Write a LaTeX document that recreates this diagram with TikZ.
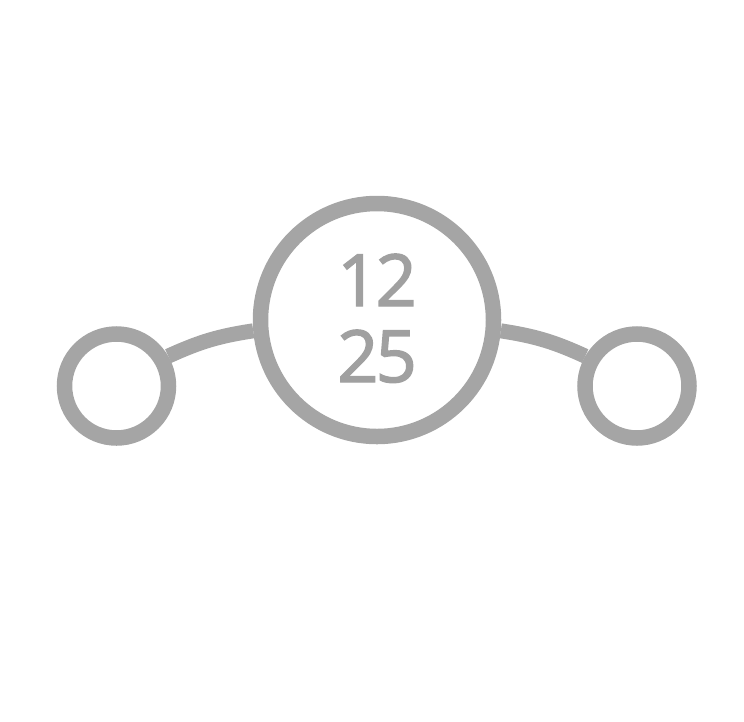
\documentclass[tikz,border=0pt]{standalone}
\usepackage{fontspec}
\setmainfont{Open Sans}
\newfontfamily\numfont[FakeBold=2,LetterSpace=-4]{Open Sans}
\definecolor{ring}{HTML}{A5A5A5}
\definecolor{txt}{HTML}{A0A0A0}
\begin{document}
\begin{tikzpicture}[x=1pt,y=-1pt,
  ringnode/.style={circle,draw=ring,line width=15.5pt,inner sep=0pt,fill=white},
  link/.style={draw=ring,line width=15pt},
  numtext/.style={text=txt,font=\numfont\fontsize{72}{76}\selectfont,inner sep=0pt,anchor=base}]
\useasboundingbox (0,0) rectangle (744,721);
\node[ringnode,minimum size=233pt] (B) at (377,320) {};
\node[ringnode,minimum size=104pt] (L) at (116.5,386) {};
\node[ringnode,minimum size=104pt] (R) at (637,386) {};
\draw[link] (L.30) to[bend left=8] (B.185);
\draw[link] (B.-5) to[bend left=8] (R.150);
\node[numtext] (t1) at (377,306) {12};
\node[numtext] (t2) at (377,382) {25};
\end{tikzpicture}
\end{document}
